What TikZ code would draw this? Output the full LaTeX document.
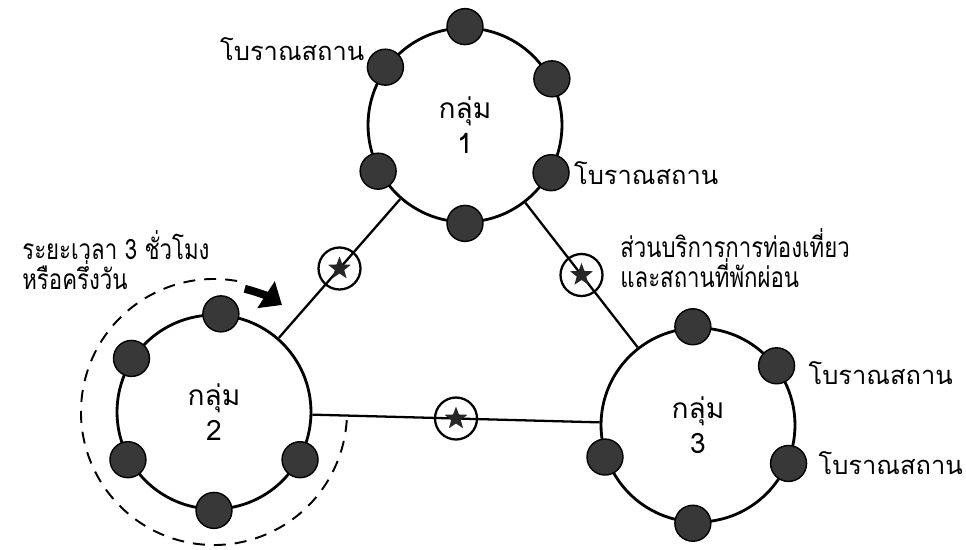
\documentclass[tikz,border=0pt]{standalone}
\usepackage{fontspec}
\newfontfamily\thaifont[Script=Thai]{Loma}
\newfontfamily\thainarrow[Script=Thai,FakeStretch=0.79]{Loma}
\usetikzlibrary{calc,shapes.geometric,arrows.meta}

\tikzset{
 grp/.style={circle,draw,line width=1.6pt,minimum size=3.88cm,inner sep=0pt,align=center,font=\thaifont\fontsize{16}{20}\selectfont},
 ball/.style={circle,draw,line width=0.8pt,fill=black!78,minimum size=0.72cm,inner sep=0pt},
 stop/.style={circle,draw,line width=1.3pt,minimum size=0.84cm,inner sep=0pt},
 starsign/.style={star,star points=5,star point ratio=2.4,fill=black!85,minimum size=0.48cm,inner sep=0pt},
 lbl/.style={inner sep=0pt,align=left,font=\thaifont\fontsize{14.5}{17}\selectfont},
 note/.style={inner sep=0pt,align=left,font=\thainarrow\fontsize{16}{17}\selectfont},
 link/.style={line width=1.3pt}
}

\begin{document}
\begin{tikzpicture}[x=0.02cm,y=0.02cm]
 \useasboundingbox (0,0) rectangle (966,549);
 % groups
 \node[grp] (g1) at (465,424) {กลุ่ม\\1};
 \node[grp] (g2) at (214,137) {กลุ่ม\\2};
 \node[grp] (g3) at (698,124) {กลุ่ม\\3};
 % routes between groups
 \draw[link] (g1) -- (g2);
 \draw[link] (g1) -- (g3);
 \draw[link] (g2) -- (g3);
 \node[stop] (s12) at ($(g1)!0.5!(g2)$) {};
 \node[stop] (s13) at ($(g1)!0.5!(g3)$) {};
 \node[stop] (s23) at ($(g2)!0.5!(g3)$) {};
 \node[starsign] (st12) at (s12) {};
 \node[starsign] (st13) at (s13) {};
 \node[starsign] (st23) at (s23) {};
 % sites on group 1
 \node[ball] (b1a) at (g1.144) {};
 \node[ball] (b1b) at (g1.90) {};
 \node[ball] (b1c) at (g1.28) {};
 \node[ball] (b1d) at (g1.208) {};
 \node[ball] (b1e) at (g1.331) {};
 \node[ball] (b1f) at (g1.270) {};
 % sites on group 2
 \node[ball] (b2a) at (g2.86) {};
 \node[ball] (b2b) at (g2.147) {};
 \node[ball] (b2c) at (g2.209) {};
 \node[ball] (b2d) at (g2.270) {};
 \node[ball] (b2e) at (g2.331) {};
 % sites on group 3
 \node[ball] (b3a) at (g3.93) {};
 \node[ball] (b3b) at (g3.37) {};
 \node[ball] (b3c) at (g3.337) {};
 \node[ball] (b3d) at (g3.267) {};
 \node[ball] (b3e) at (g3.199) {};
 % half day tour
 \draw[line width=1.1pt,dash pattern=on 0.24cm off 0.18cm] (g2.center) ++(80:133) arc[start angle=80,end angle=358,radius=133];
 \draw[line width=4.5pt,-{Triangle[length=0.38cm,width=0.62cm]}] (g2.center) ++(76:127) arc[start angle=76,end angle=57,radius=123];
 % labels
 \node[lbl,anchor=east] (l1) at ([xshift=-0.04cm,yshift=0.36cm]b1a.west) {โบราณสถาน};
 \node[lbl,anchor=west] (l2) at ([xshift=0.08cm]b1e.east) {โบราณสถาน};
 \node[lbl,anchor=west] (l3) at ([xshift=0.26cm,yshift=-0.14cm]b3b.east) {โบราณสถาน};
 \node[lbl,anchor=west] (l4) at ([xshift=0.22cm]b3c.east) {โบราณสถาน};
 \node[note,anchor=west] (l5) at (620,291) {ส่วนบริการการท่องเที่ยว\\และสถานที่พักผ่อน};
 \node[note,anchor=west] (l6) at (22,289) {ระยะเวลา 3 ชั่วโมง\\หรือครึ่งวัน};
\end{tikzpicture}
\end{document}
